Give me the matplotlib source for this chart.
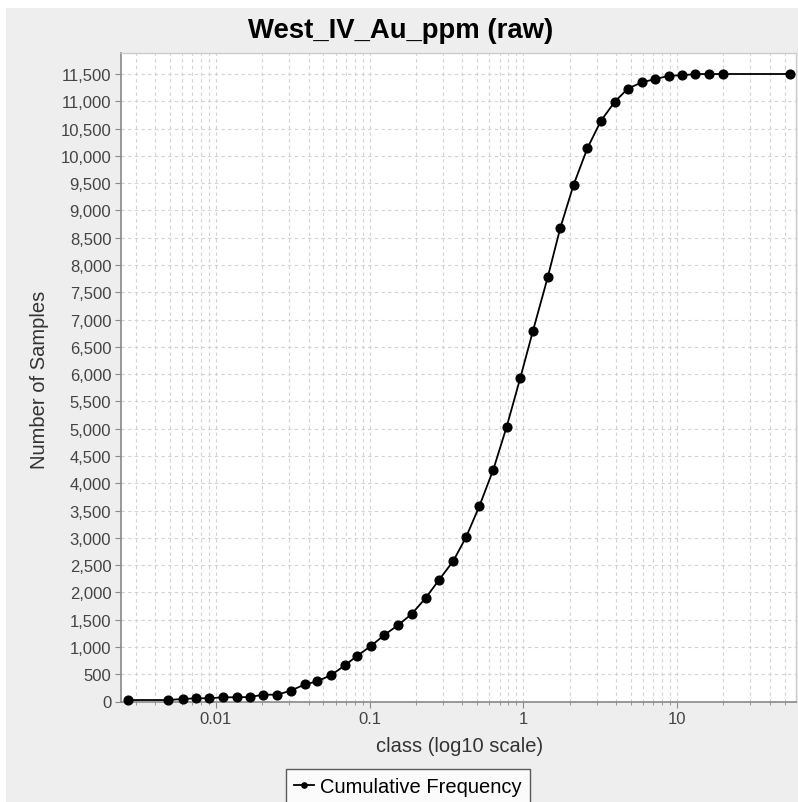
import numpy as np
import matplotlib
matplotlib.use('Agg')
import matplotlib.pyplot as plt
from matplotlib.patches import Rectangle
from matplotlib.ticker import FixedLocator, FuncFormatter, NullFormatter
############################

OUT_FILENAME = 'out.png'
FONT = 'Liberation Sans'

TITLE = 'West_IV_Au_ppm (raw)'
X_LABEL = 'class (log10 scale)'
Y_LABEL = 'Number of Samples'
SERIES_NAME = 'Cumulative Frequency'

# class upper bounds (ppm)
class_values = [0.00269, 0.00489, 0.00607, 0.00741, 0.00905, 0.0111, 0.0136,
                0.0166, 0.0203, 0.0251, 0.0306, 0.0378, 0.0456, 0.0563,
                0.0688, 0.0831, 0.102, 0.1245, 0.1535, 0.1876, 0.2314,
                0.2824, 0.3499, 0.4233, 0.5166, 0.6372, 0.7785, 0.9546,
                1.155, 1.439, 1.738, 2.125, 2.613, 3.198, 3.945, 4.793,
                5.909, 7.236, 8.898, 10.81, 13.17, 16.20, 19.80, 54.3]

# cumulative number of samples for each class
cumulative_counts = [27, 27, 46, 59, 59, 77, 77, 82, 125, 125, 198, 312, 370,
                     486, 660, 839, 1017, 1219, 1402, 1603, 1897, 2227, 2575,
                     3009, 3577, 4248, 5036, 5928, 6795, 7770, 8677, 9474,
                     10143, 10643, 10995, 11233, 11347, 11407, 11468, 11475,
                     11499, 11499, 11499, 11499]

x_major_ticks = [0.01, 0.1, 1, 10]
x_tick_labels = ['0.01', '0.1', '1', '10']


def px(x, y):
    # pixel position (from top-left) -> figure fraction
    return x / 798, 1 - y / 803


def style_axes(ax):
    ax.set_xscale('log')
    ax.set_xlim(0.00241, 59.4)
    ax.set_ylim(0, 11884)

    ax.xaxis.set_major_locator(FixedLocator(x_major_ticks))
    ax.set_xticklabels(x_tick_labels)
    ax.xaxis.set_minor_locator(matplotlib.ticker.LogLocator(base=10, subs=np.arange(2, 10)))
    ax.xaxis.set_minor_formatter(NullFormatter())

    ax.yaxis.set_major_locator(matplotlib.ticker.MultipleLocator(500))
    ax.yaxis.set_major_formatter(FuncFormatter(lambda v, p: '{:,.0f}'.format(v)))

    grid_kw = dict(color='#d2d2d2', linestyle=(0, (3, 3)), linewidth=0.8)
    ax.grid(True, which='major', axis='both', **grid_kw)
    ax.grid(True, which='minor', axis='x', **grid_kw)

    ax.tick_params(axis='both', which='both', direction='out', color='#888888',
                   labelsize=12, labelcolor='#444444', pad=3)
    ax.tick_params(axis='both', which='major', length=4)
    ax.tick_params(axis='x', which='minor', length=2)
    for lab in ax.get_xticklabels() + ax.get_yticklabels():
        lab.set_family(FONT)

    for side in ['left', 'bottom']:
        ax.spines[side].set_color('#888888')
        ax.spines[side].set_linewidth(1.2)
    for side in ['top', 'right']:
        ax.spines[side].set_color('#cccccc')
        ax.spines[side].set_linewidth(1.0)


def main():
    fig = plt.figure(figsize=(7.98, 8.03), dpi=100, facecolor='white')
    # gray chart panel, leaving a thin white margin at top and left
    fig.patches.append(Rectangle((6 / 798, 0), 1, 1 - 9 / 803,
                                 transform=fig.transFigure,
                                 facecolor='#eeeeee', edgecolor='none', zorder=-10))

    ax = fig.add_axes([121 / 798, 1 - 702.5 / 803, (796 - 121) / 798, (702.5 - 54) / 803])
    ax.set_facecolor('white')

    ax.plot(class_values, cumulative_counts, color='black', linewidth=1.3,
            marker='o', markersize=6.3, label=SERIES_NAME, clip_on=False, zorder=3)

    style_axes(ax)

    fig.text(*px(401, 31), TITLE, ha='center', va='center', family=FONT,
             fontsize=19.8, fontweight='bold', color='black')
    fig.text(*px(460, 747), X_LABEL, ha='center', va='center', family=FONT,
             fontsize=14.5, color='#333333')
    fig.text(*px(40, 380), Y_LABEL, ha='center', va='center', rotation=90,
             family=FONT, fontsize=14.5, color='#333333')

    handles, labels = ax.get_legend_handles_labels()
    leg = fig.legend(handles, labels, loc='upper center',
                     bbox_to_anchor=px(408, 770),
                     frameon=True, fancybox=False,
                     prop={'family': FONT, 'size': 14.5},
                     handlelength=1.0, handletextpad=0.3, borderpad=0.4,
                     borderaxespad=0, markerscale=0.6)
    leg.get_frame().set_edgecolor('#333333')
    leg.get_frame().set_facecolor('white')
    leg.get_frame().set_linewidth(1.0)

    fig.savefig(OUT_FILENAME, dpi=100, facecolor=fig.get_facecolor())


if __name__ == "__main__":
    main()
